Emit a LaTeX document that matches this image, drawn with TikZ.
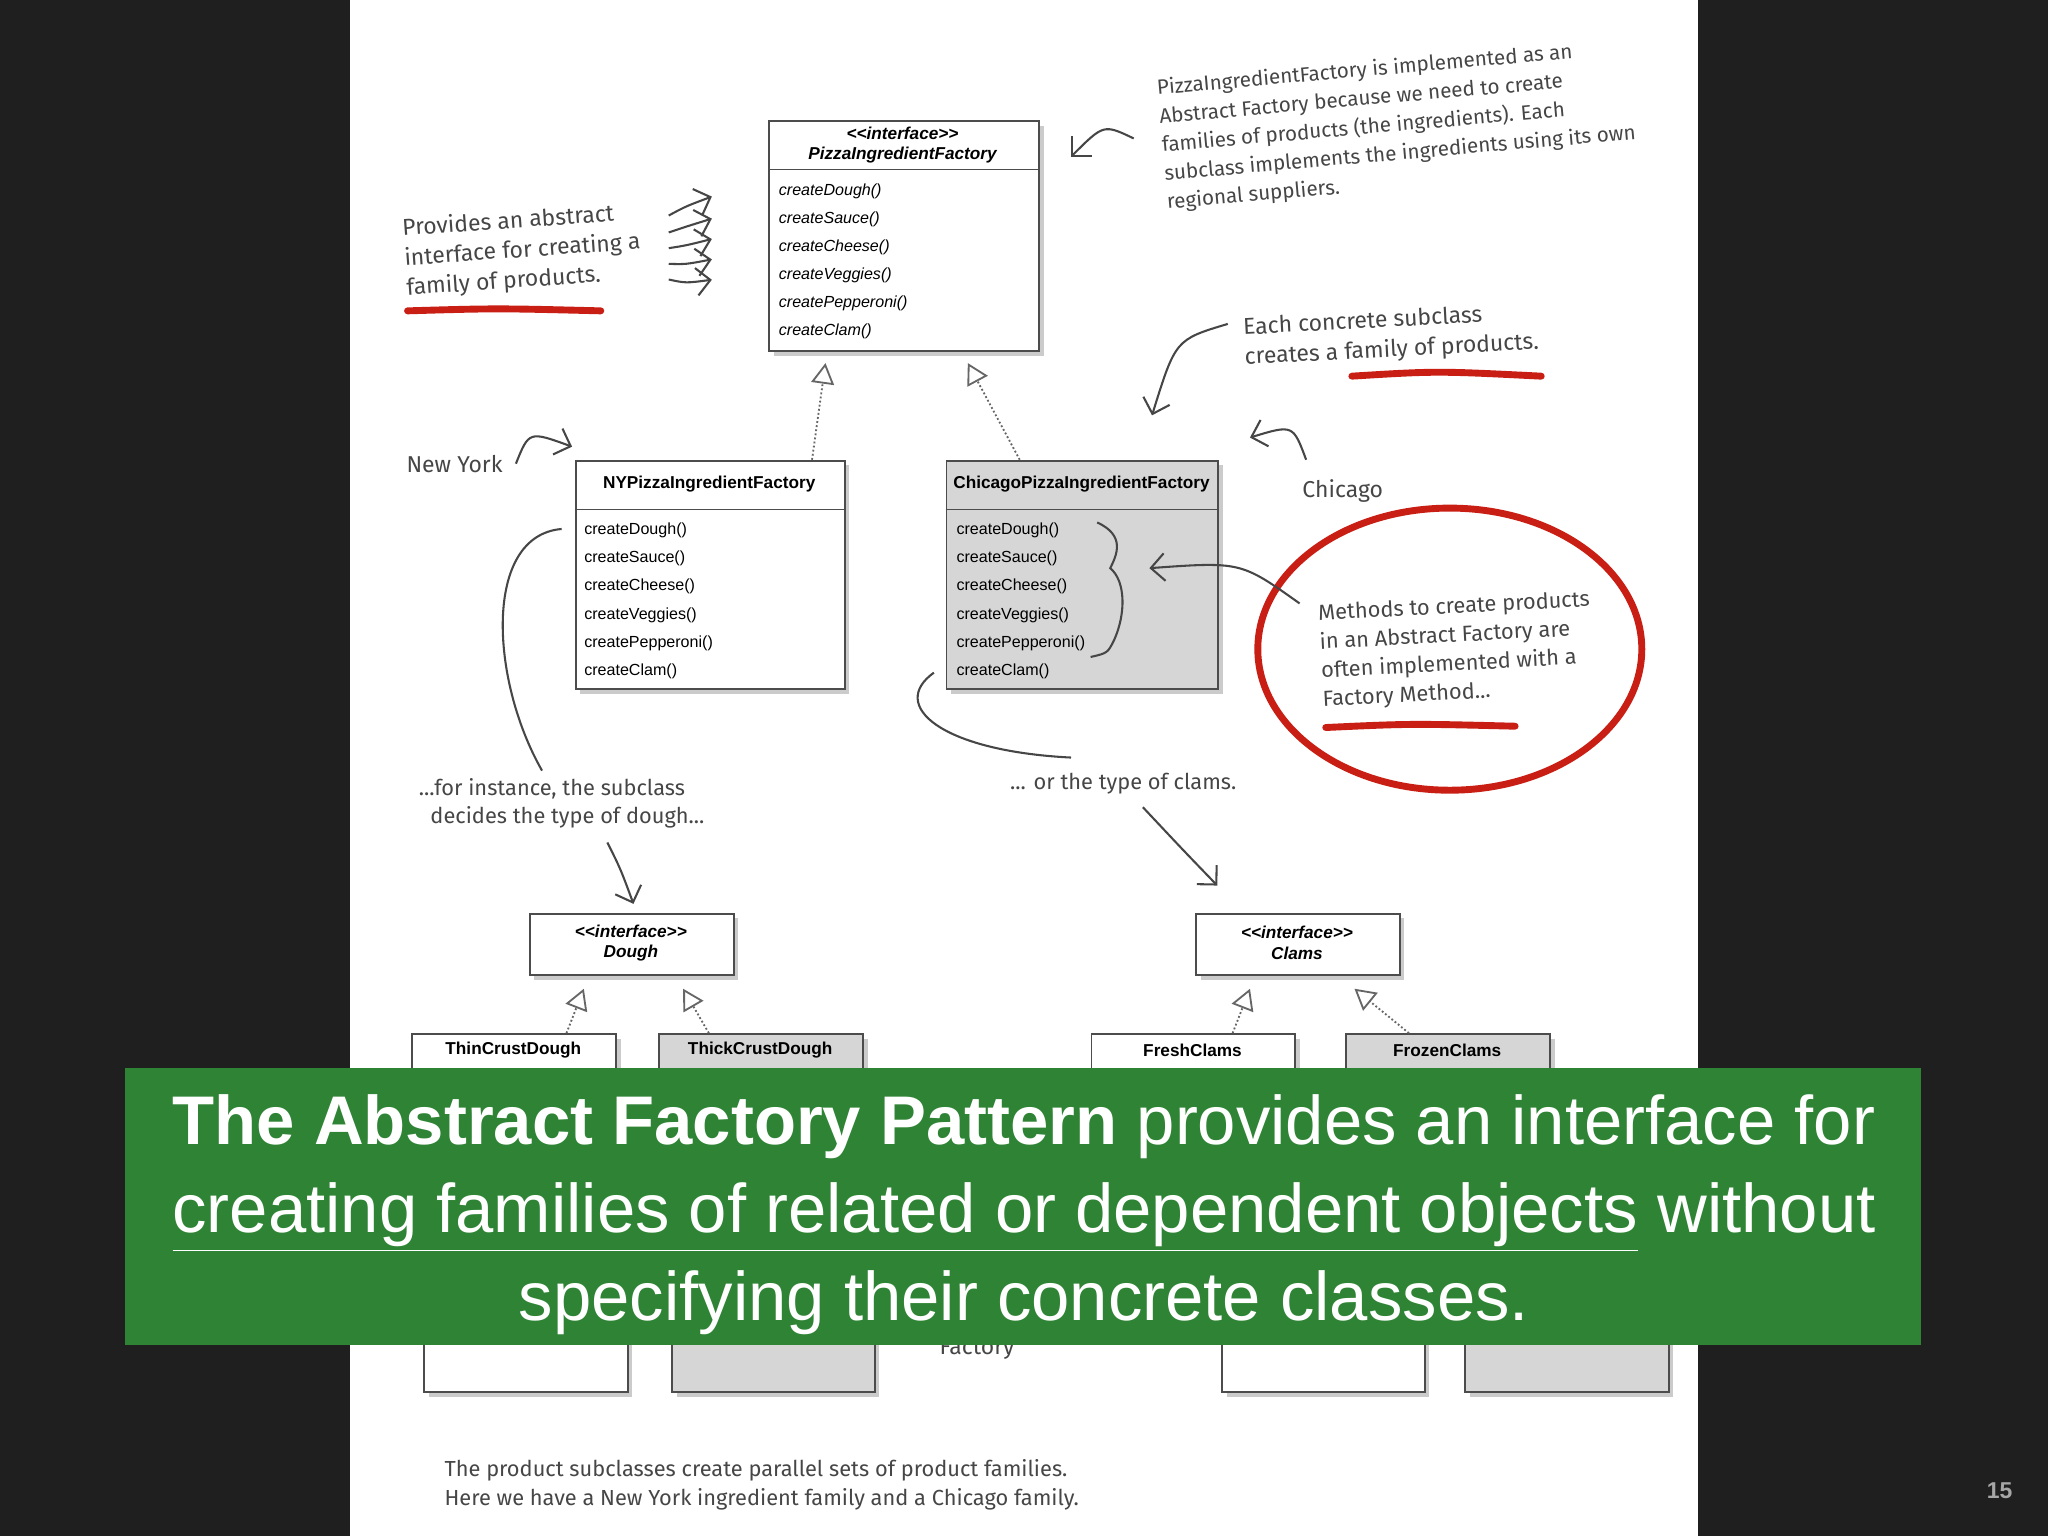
\documentclass[tikz,border=0pt]{standalone}
\usepackage{fontspec}
\setmainfont{Liberation Sans}
\newfontfamily\hand{Fira Sans}
\usetikzlibrary{arrows.meta,shadows}
\definecolor{bann}{RGB}{46,132,52}
\definecolor{ink}{RGB}{70,70,70}
\definecolor{redink}{RGB}{200,30,20}
\tikzset{
 cls/.style={draw=black!70,line width=0.8pt,fill=white,drop shadow={shadow xshift=2pt,shadow yshift=-2pt,fill=black!40}},
 gcls/.style={cls,fill=black!16},
 mtxt/.style={font=\fontsize{7}{11}\selectfont,anchor=west,inner sep=0},
 htxt/.style={font=\fontsize{7.5}{9}\selectfont\bfseries,inner sep=0},
 note/.style={font=\hand\fontsize{10}{13}\selectfont,text=ink,align=left,inner sep=0},
 inh/.style={densely dotted,draw=black!60,line width=0.8pt,-{Triangle[open,length=9pt,width=10pt]}},
 harr/.style={draw=ink,line width=0.9pt,-{Straight Barb[length=6pt]}},
 redl/.style={draw=redink,line width=3pt,line cap=round},
}
\begin{document}
\begin{tikzpicture}[x=0.02cm,y=-0.02cm]
\fill[black!88] (0,0) rectangle (1568,1176);
\fill[white] (268,0) rectangle (1300,1176);
\useasboundingbox (0,0) rectangle (1568,1176);
% top interface
\node[cls,minimum width=207*0.02cm,minimum height=176*0.02cm,anchor=north west,inner sep=0] (pif) at (588,92) {};
\draw[black!70] (588,130) -- (795,130);
\node[htxt,align=center,font=\fontsize{7.5}{9}\selectfont\bfseries\itshape] (pift) at (691,111) {<{}<interface>{}>\\PizzaIngredientFactory};
\foreach \t [count=\i] in {createDough(),createSauce(),createCheese(),createVeggies(),createPepperoni(),createClam()}
  \node[mtxt,font=\fontsize{7}{9}\selectfont\itshape] (pm\i) at (596,125+21.5*\i) {\t};
% NY
\node[cls,minimum width=206*0.02cm,minimum height=175*0.02cm,anchor=north west,inner sep=0] (ny) at (440,352) {};
\draw[black!70] (440,390) -- (646,390);
\node[htxt] (nyt) at (543,371) {NYPizzaIngredientFactory};
\foreach \t [count=\i] in {createDough(),createSauce(),createCheese(),createVeggies(),createPepperoni(),createClam()}
  \node[mtxt] (nm\i) at (447,384+21.7*\i) {\t};
% Chicago
\node[gcls,minimum width=208*0.02cm,minimum height=175*0.02cm,anchor=north west,inner sep=0] (ch) at (724,352) {};
\draw[black!70] (724,390) -- (932,390);
\node[htxt] (cht) at (828,371) {ChicagoPizzaIngredientFactory};
\foreach \t [count=\i] in {createDough(),createSauce(),createCheese(),createVeggies(),createPepperoni(),createClam()}
  \node[mtxt] (cm\i) at (732,384+21.7*\i) {\t};
% Dough, Clams
\node[cls,minimum width=156*0.02cm,minimum height=47*0.02cm,anchor=north west,inner sep=0] (dough) at (405,699) {};
\node[htxt,align=center,font=\fontsize{7.5}{9}\selectfont\bfseries\itshape] at (483,722) {<{}<interface>{}>\\Dough};
\node[cls,minimum width=156*0.02cm,minimum height=47*0.02cm,anchor=north west,inner sep=0] (clams) at (915,699) {};
\node[htxt,align=center,font=\fontsize{7.5}{9}\selectfont\bfseries\itshape] at (993,722) {<{}<interface>{}>\\Clams};
% subclasses
\node[cls,minimum width=156*0.02cm,minimum height=40*0.02cm,anchor=north west,inner sep=0] (thin) at (315,791) {};
\node[htxt] at (393,804) {ThinCrustDough};
\node[gcls,minimum width=156*0.02cm,minimum height=40*0.02cm,anchor=north west,inner sep=0] (thick) at (504,791) {};
\node[htxt] at (582,804) {ThickCrustDough};
\node[cls,minimum width=156*0.02cm,minimum height=40*0.02cm,anchor=north west,inner sep=0] (fresh) at (835,791) {};
\node[htxt] at (913,804) {FreshClams};
\node[gcls,minimum width=156*0.02cm,minimum height=40*0.02cm,anchor=north west,inner sep=0] (frozen) at (1030,791) {};
\node[htxt] at (1108,804) {FrozenClams};
\node[cls,minimum width=156*0.02cm,minimum height=50*0.02cm,anchor=north west,inner sep=0] (b1) at (324,1015) {};
\node[gcls,minimum width=155*0.02cm,minimum height=50*0.02cm,anchor=north west,inner sep=0] (b2) at (514,1015) {};
\node[cls,minimum width=155*0.02cm,minimum height=50*0.02cm,anchor=north west,inner sep=0] (b3) at (935,1015) {};
\node[gcls,minimum width=156*0.02cm,minimum height=50*0.02cm,anchor=north west,inner sep=0] (b4) at (1121,1015) {};
\node[note] (fact) at (748,1033) {Factory};
% inheritance
\draw[inh] (ny.north)++(78,0) coordinate (a1) -- (632,278);
\draw[inh] (ch.north)++(-48,0) coordinate (a2) -- (741,278);
\draw[inh] (thin.north)++(40,0) -- (447,757);
\draw[inh] (thick.north)++(-40,0) -- (523,757);
\draw[inh] (fresh.north)++(30,0) -- (957,757);
\draw[inh] (frozen.north)++(-30,0) -- (1037,757);
% notes
\node[note,rotate=4] (n1) at (400,192) {Provides an abstract\\interface for creating a\\family of products.};
\draw[redl] (312,238) .. controls (380,236) .. (460,238);
\foreach \dy in {-25,-12,0,12,24} \draw[harr] (512,190+\dy) .. controls (525,188+\dy*1.2) .. (545,183+\dy*1.3);
\node[note,rotate=5,font=\hand\fontsize{9}{12.5}\selectfont] (n2) at (1070,96) {PizzaIngredientFactory is implemented as an\\Abstract Factory because we need to create\\families of products (the ingredients). Each\\subclass implements the ingredients using its own\\regional suppliers.};
\draw[harr] (868,106) .. controls (845,95) .. (820,120);
\node[note,rotate=3] (n3) at (1065,257) {Each concrete subclass\\creates a family of products.};
\draw[redl] (1035,288) .. controls (1100,284) .. (1180,288);
\draw[harr] (940,248) .. controls (900,260) .. (882,318);
\node[note] (nyl) at (348,355) {New York};
\draw[harr] (395,355) .. controls (405,330) .. (438,342);
\node[note] (chl) at (1028,376) {Chicago};
\draw[harr] (1000,352) .. controls (990,325) .. (957,335);
\draw[redink,line width=3pt] (1110,497) ellipse (147 and 108);
\node[note,rotate=3,font=\hand\fontsize{9.5}{12.5}\selectfont] (n4) at (1115,498) {Methods to create products\\in an Abstract Factory are\\often implemented with a\\Factory Method...};
\draw[redl] (1015,557) .. controls (1080,554) .. (1160,556);
\draw[harr] (995,462) .. controls (950,430) .. (880,435);
\draw[ink,line width=0.9pt] (840,400) .. controls (862,410) and (855,425) .. (850,435) .. controls (862,445) and (862,470) .. (853,490) .. controls (848,500) .. (835,503);
\node[note,font=\hand\fontsize{9.5}{12.5}\selectfont] (n5) at (430,615) {...for instance, the subclass\\\ \ decides the type of dough...};
\draw[ink,line width=0.9pt] (430,405) .. controls (370,410) and (375,520) .. (415,590);
\draw[harr] (465,645) .. controls (475,665) .. (485,692);
\node[note,font=\hand\fontsize{9.5}{12.5}\selectfont] (n6) at (860,600) {... or the type of clams.};
\draw[ink,line width=0.9pt] (715,515) .. controls (680,540) and (720,575) .. (820,580);
\draw[harr] (875,618) .. controls (905,650) .. (932,678);
\node[note,anchor=west,font=\hand\fontsize{9.5}{12.5}\selectfont] (n7) at (340,1137) {The product subclasses create parallel sets of product families.\\Here we have a New York ingredient family and a Chicago family.};
% banner
\fill[bann] (96,818) rectangle (1471,1030);
\node[text=white,align=center,font=\fontsize{30}{38.5}\selectfont,inner sep=0] (ban) at (784,930) {\textbf{The Abstract Factory Pattern} provides an interface for\\\underline{creating families of related or dependent objects} without\\specifying their concrete classes.};
\node[text=black!35,font=\fontsize{10}{12}\selectfont\bfseries] (pg) at (1531,1141) {15};
\end{tikzpicture}
\end{document}
